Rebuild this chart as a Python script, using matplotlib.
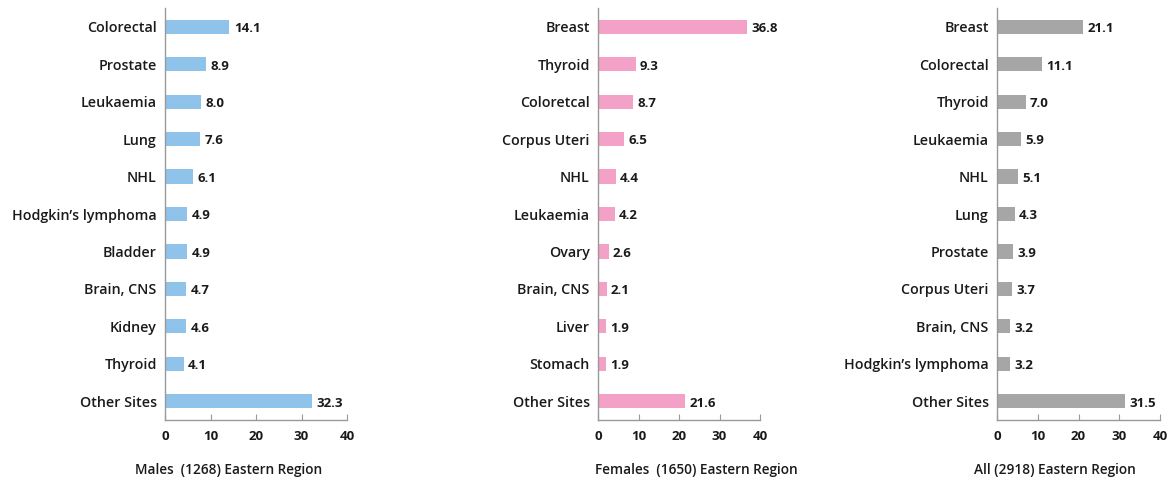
import matplotlib

matplotlib.use("Agg")
import matplotlib.pyplot as plt

# data
males_sites = ["Colorectal", "Prostate", "Leukaemia", "Lung", "NHL", "Hodgkin\u2019s lymphoma",
               "Bladder", "Brain, CNS", "Kidney", "Thyroid", "Other Sites"]
males_pct = [14.1, 8.9, 8.0, 7.6, 6.1, 4.9, 4.9, 4.7, 4.6, 4.1, 32.3]

females_sites = ["Breast", "Thyroid", "Coloretcal", "Corpus Uteri", "NHL", "Leukaemia",
                 "Ovary", "Brain, CNS", "Liver", "Stomach", "Other Sites"]
females_pct = [36.8, 9.3, 8.7, 6.5, 4.4, 4.2, 2.6, 2.1, 1.9, 1.9, 21.6]

all_sites = ["Breast", "Colorectal", "Thyroid", "Leukaemia", "NHL", "Lung", "Prostate",
             "Corpus Uteri", "Brain, CNS", "Hodgkin\u2019s lymphoma", "Other Sites"]
all_pct = [21.1, 11.1, 7.0, 5.9, 5.1, 4.3, 3.9, 3.7, 3.2, 3.2, 31.5]

x_ticks = [0, 10, 20, 30, 40]

panels = [
    (males_sites, males_pct, "#8fc3ea", "Males  (1268) Eastern Region", [0.1413, 0.1286, 0.1558, 0.8548], 0.196),
    (females_sites, females_pct, "#f4a1c8", "Females  (1650) Eastern Region", [0.5120, 0.1286, 0.1387, 0.8548], 0.596),
    (all_sites, all_pct, "#a6a6a6", "All (2918) Eastern Region", [0.8536, 0.1286, 0.1396, 0.8548], 0.903),
]

fig = plt.figure(figsize=(11.68, 4.82), dpi=100)

for sites, pct, color, title, rect, title_x in panels:
    ax = fig.add_axes(rect)
    ypos = list(range(len(sites)))
    ax.barh(ypos, pct, height=0.38, color=color)
    for y, v in zip(ypos, pct):
        ax.text(v + 1.0, y + 0.05, f"{v:.1f}", va="center", ha="left",
                fontsize=9.5, fontweight="bold", family="Open Sans", color="#1a1a1a")
    ax.set_ylim(10.5, -0.5)
    ax.set_xlim(0, 40)
    ax.set_xticks(x_ticks)
    ax.set_xticklabels([str(t) for t in x_ticks], fontsize=9.5, fontweight="bold",
                       family="Open Sans", color="#1a1a1a")
    ax.set_yticks(ypos)
    ax.set_yticklabels(sites, fontsize=10.3, family="Open Sans", fontweight="semibold", color="#1a1a1a")
    ax.tick_params(axis="y", length=0, pad=6)
    ax.tick_params(axis="x", direction="in", length=4, color="#999999", pad=7)
    for s in ("top", "right"):
        ax.spines[s].set_visible(False)
    for s in ("left", "bottom"):
        ax.spines[s].set_color("#999999")
        ax.spines[s].set_linewidth(1.0)
    fig.text(title_x, 0.025, title, ha="center", va="center", fontsize=9.8,
             family="Open Sans", fontweight="semibold", color="#1a1a1a")

fig.savefig("out.png", dpi=100)
